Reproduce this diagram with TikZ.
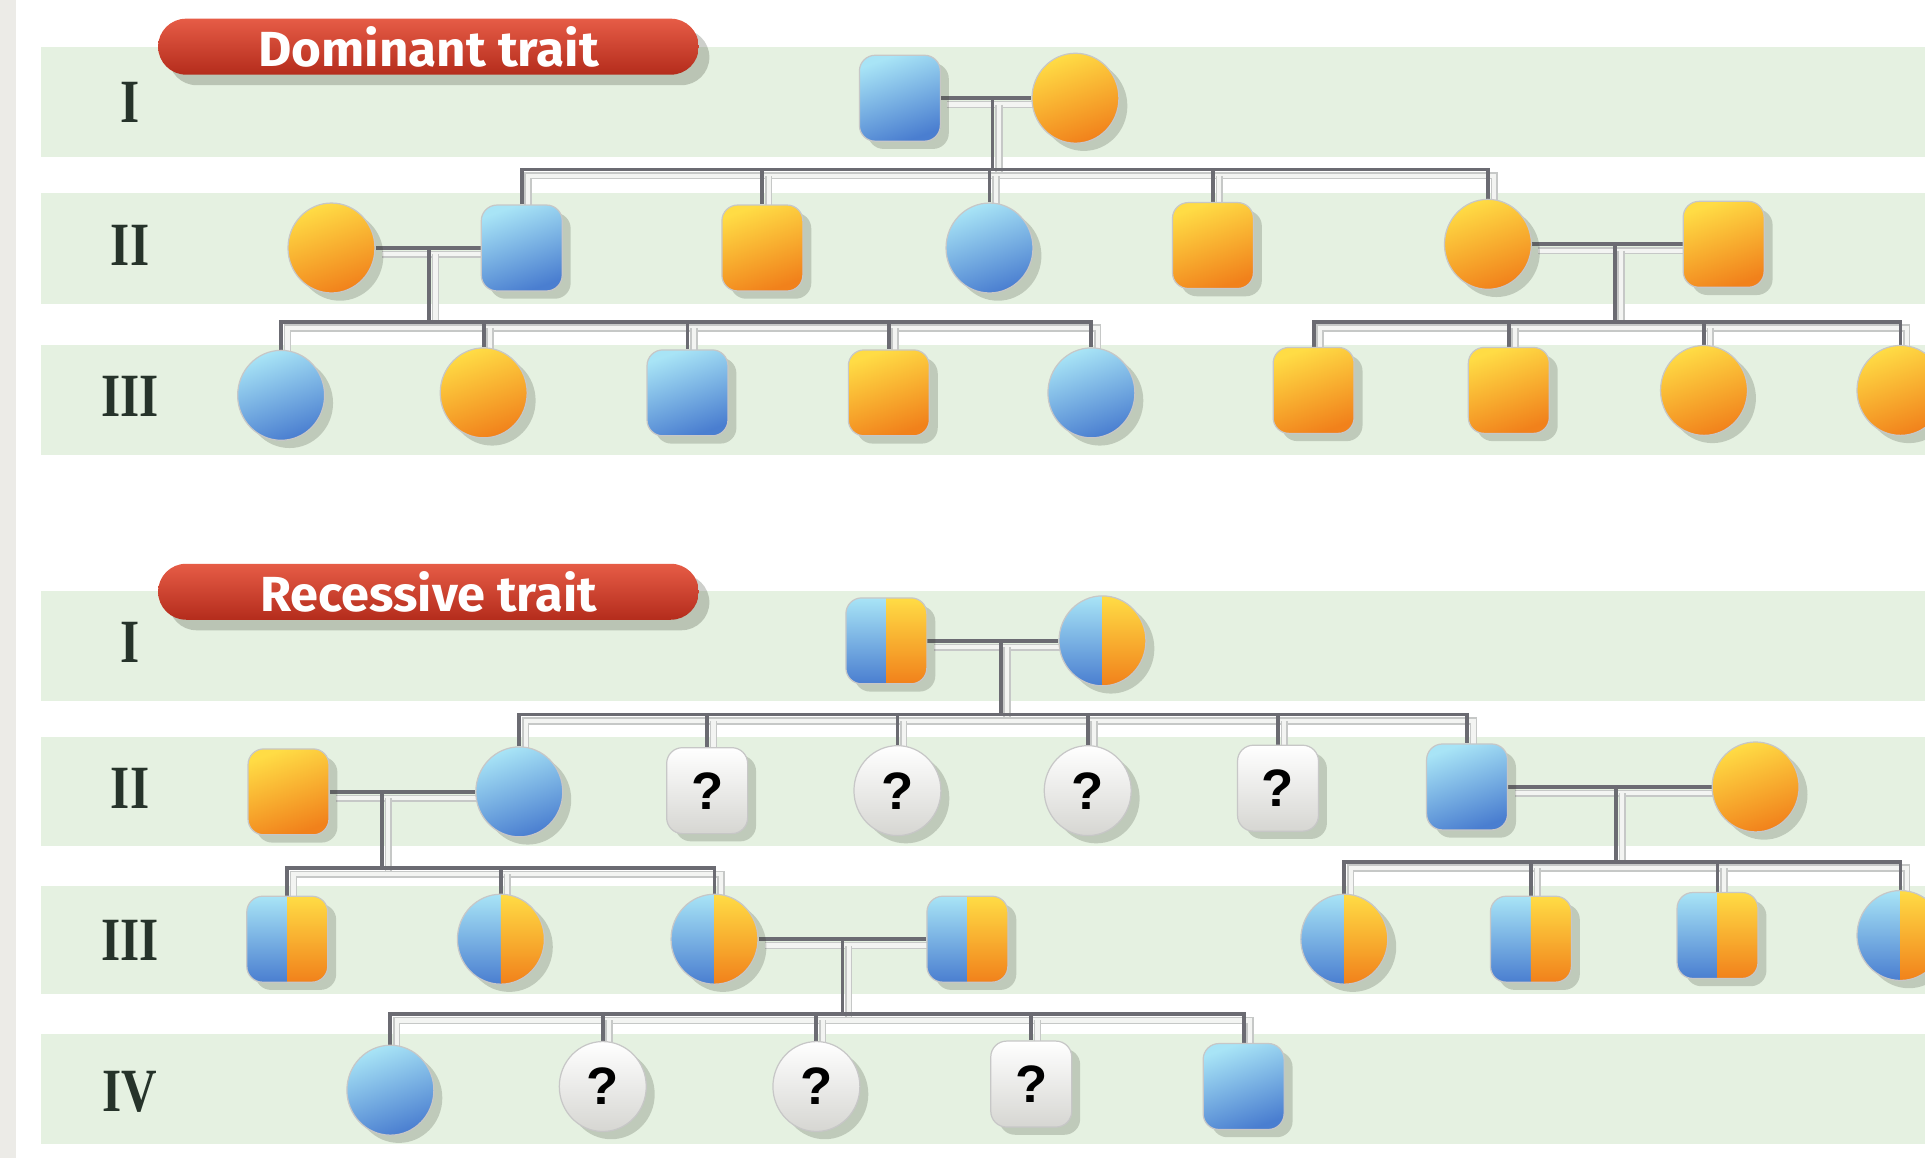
\documentclass[tikz,border=0pt]{standalone}
\usepackage{graphicx}
\usepackage{fontspec}
\setmainfont{Liberation Serif}
\setsansfont{Liberation Sans}
\newfontfamily\pillfont{Fira Sans}
\usetikzlibrary{shapes.geometric,shadows,calc}
\definecolor{bluetop}{HTML}{A8E4F6}
\definecolor{bluebot}{HTML}{4A7ED0}
\definecolor{orgtop}{HTML}{FFDC45}
\definecolor{orgbot}{HTML}{F1811B}
\definecolor{unkbot}{HTML}{D6D6D2}
\definecolor{pilltop}{HTML}{E65C46}
\definecolor{pillbot}{HTML}{B42C1C}
\definecolor{bandgreen}{HTML}{E5F1E1}
\definecolor{stripgray}{HTML}{ECEBE7}
\definecolor{linegray}{HTML}{6B6B72}
\definecolor{tubeedge}{HTML}{C6C8C7}
\definecolor{tubefill}{HTML}{F3F4F2}
\definecolor{numcol}{HTML}{26332A}
\definecolor{shadowcol}{HTML}{3A4030}
\pgfdeclarelayer{bands}
\pgfdeclarelayer{links}
\pgfsetlayers{bands,links,main}
\newcommand{\numtext}[1]{\scalebox{0.8}[1]{\bfseries #1}}
\begin{document}
\begin{tikzpicture}[x=0.012277cm, y=-0.012277cm,
  person/.style={inner sep=0pt, draw=black!22, line width=0.35pt,
    drop shadow={shadow xshift=2.4pt, shadow yshift=-2.2pt, opacity=0.22, fill=shadowcol}},
  sq/.style={person, rectangle, rounded corners=4.5pt, minimum width=0.81cm, minimum height=0.86cm},
  ci/.style={person, ellipse, minimum width=0.87cm, minimum height=0.90cm},
  aff/.style={top color=bluetop, bottom color=bluebot, shading angle=20},
  un/.style={top color=orgtop, bottom color=orgbot, shading angle=20},
  unk/.style={top color=white, bottom color=unkbot, text=black,
    font=\sffamily\bfseries\fontsize{15}{15}\selectfont},
  car/.style={path picture={
    \shade[sharp corners, top color=bluetop, bottom color=bluebot]
      (path picture bounding box.north west) rectangle (path picture bounding box.south);
    \shade[sharp corners, top color=orgtop, bottom color=orgbot]
      (path picture bounding box.north) rectangle (path picture bounding box.south east);}},
  conn/.style={draw=linegray, line width=1.1pt,
    preaction={draw=tubeedge, double=tubefill, double distance=1.2pt, line width=0.45pt,
      transform canvas={xshift=1.8pt, yshift=-1.8pt}}},
  numeral/.style={text=numcol, font=\fontsize{17.5}{18}\selectfont, inner sep=0pt},
  pill/.style={rectangle, rounded corners=0.28cm, minimum width=5.41cm, minimum height=0.56cm,
    inner sep=0pt, top color=pilltop, bottom color=pillbot, text=white,
    drop shadow={shadow xshift=3pt, shadow yshift=-3pt, opacity=0.25, fill=shadowcol}},
  band/.style={fill=bandgreen}
]
\useasboundingbox (0,0) rectangle (1568,943);
\clip (0,0) rectangle (1568,943);

% ---------- background ----------
\begin{pgfonlayer}{bands}
\fill[white] (0,0) rectangle (1568,943);
\fill[stripgray] (0,0) rectangle (13,943);
\fill[band] (33,38) rectangle (1568,128);
\fill[band] (33,157) rectangle (1568,248);
\fill[band] (33,281) rectangle (1568,371);
\fill[band] (33,481) rectangle (1568,571);
\fill[band] (33,600) rectangle (1568,689);
\fill[band] (33,722) rectangle (1568,810);
\fill[band] (33,842) rectangle (1568,932);
\end{pgfonlayer}

% ---------- titles ----------
\node[pill] (dpill) at (349,38) {\resizebox{3.41cm}{0.40cm}{\pillfont\bfseries Dominant trait}};
\node[pill] (rpill) at (349,482) {\resizebox{3.37cm}{0.40cm}{\pillfont\bfseries Recessive trait}};

% ---------- generation numerals ----------
\node[numeral] (dnI) at (106,83) {\numtext{I}};
\node[numeral] (dnII) at (106,200) {\numtext{II}};
\node[numeral] (dnIII) at (106,323) {\numtext{III}};
\node[numeral] (rnI) at (106,523) {\numtext{I}};
\node[numeral] (rnII) at (106,642) {\numtext{II}};
\node[numeral] (rnIII) at (106,766) {\numtext{III}};
\node[numeral] (rnIV) at (106,889) {\numtext{IV}};

% ---------- dominant pedigree ----------
\node[sq,aff] (dIa) at (733,80) {};
\node[ci,un] (dIb) at (876,80) {};
\node[ci,un] (dIIa) at (270,202) {};
\node[sq,aff] (dIIb) at (425,202) {};
\node[sq,un] (dIIc) at (621,202) {};
\node[ci,aff] (dIId) at (806,202) {};
\node[sq,un] (dIIe) at (988,200) {};
\node[ci,un] (dIIf) at (1212,199) {};
\node[sq,un] (dIIg) at (1404,199) {};
\node[ci,aff] (dIIIa) at (229,322) {};
\node[ci,un] (dIIIb) at (394,320) {};
\node[sq,aff] (dIIIc) at (560,320) {};
\node[sq,un] (dIIId) at (724,320) {};
\node[ci,aff] (dIIIe) at (889,320) {};
\node[sq,un] (dIIIf) at (1070,318) {};
\node[sq,un] (dIIIg) at (1229,318) {};
\node[ci,un] (dIIIh) at (1388,318) {};
\node[ci,un] (dIIIi) at (1548,318) {};

% ---------- recessive pedigree ----------
\node[sq,car] (rIa) at (722,522) {};
\node[ci,car] (rIb) at (898,522) {};
\node[sq,un] (rIIa) at (235,645) {};
\node[ci,aff] (rIIb) at (423,645) {};
\node[sq,unk] (rIIc) at (576,644) {?};
\node[ci,unk] (rIId) at (731,644) {?};
\node[ci,unk] (rIIe) at (886,644) {?};
\node[sq,unk] (rIIf) at (1041,642) {?};
\node[sq,aff] (rIIg) at (1195,641) {};
\node[ci,un] (rIIh) at (1430,641) {};
\node[sq,car] (rIIIa) at (234,765) {};
\node[ci,car] (rIIIb) at (408,765) {};
\node[ci,car] (rIIIc) at (582,765) {};
\node[sq,car] (rIIId) at (788,765) {};
\node[ci,car] (rIIIe) at (1095,765) {};
\node[sq,car] (rIIIf) at (1247,765) {};
\node[sq,car] (rIIIg) at (1399,762) {};
\node[ci,car] (rIIIh) at (1548,762) {};
\node[ci,aff] (rIVa) at (318,888) {};
\node[ci,unk] (rIVb) at (491,885) {?};
\node[ci,unk] (rIVc) at (665,885) {?};
\node[sq,unk] (rIVd) at (840,883) {?};
\node[sq,aff] (rIVe) at (1013,885) {};

% ---------- connector helper coordinates ----------
\coordinate (dS1) at (0,138);
\coordinate (dS2) at (0,262);
\coordinate (dS3) at (0,262);
\coordinate (rS1) at (0,582);
\coordinate (rS2) at (0,707);
\coordinate (rS3) at (0,702);
\coordinate (rS4) at (0,826);
\coordinate (dM1) at ($(dIa.east)!0.57!(dIb.west)$);
\coordinate (dM2) at ($(dIIa.east)!0.51!(dIIb.west)$);
\coordinate (dM3) at ($(dIIf.east)!0.55!(dIIg.west)$);
\coordinate (rM1) at ($(rIa.east)!0.56!(rIb.west)$);
\coordinate (rM2) at ($(rIIa.east)!0.36!(rIIb.west)$);
\coordinate (rM3) at ($(rIIg.east)!0.53!(rIIh.west)$);
\coordinate (rM4) at ($(rIIIc.east)!0.50!(rIIId.west)$);

% ---------- connectors ----------
\begin{pgfonlayer}{links}
% dominant I
\draw[conn] (dIa.east) -- (dIb.west);
\draw[conn] (dM1) -- (dM1 |- dS1);
\draw[conn] (dIIb.north) -- (dIIb.north |- dS1) -- (dIIf.north |- dS1) -- (dIIf.north);
\foreach \c in {dIIc,dIId,dIIe} \draw[conn] (\c.north |- dS1) -- (\c.north);
% dominant II left
\draw[conn] (dIIa.east) -- (dIIb.west);
\draw[conn] (dM2) -- (dM2 |- dS2);
\draw[conn] (dIIIa.north) -- (dIIIa.north |- dS2) -- (dIIIe.north |- dS2) -- (dIIIe.north);
\foreach \c in {dIIIb,dIIIc,dIIId} \draw[conn] (\c.north |- dS2) -- (\c.north);
% dominant II right
\draw[conn] (dIIf.east) -- (dIIg.west);
\draw[conn] (dM3) -- (dM3 |- dS3);
\draw[conn] (dIIIf.north) -- (dIIIf.north |- dS3) -- (dIIIi.north |- dS3) -- (dIIIi.north);
\foreach \c in {dIIIg,dIIIh} \draw[conn] (\c.north |- dS3) -- (\c.north);
% recessive I
\draw[conn] (rIa.east) -- (rIb.west);
\draw[conn] (rM1) -- (rM1 |- rS1);
\draw[conn] (rIIb.north) -- (rIIb.north |- rS1) -- (rIIg.north |- rS1) -- (rIIg.north);
\foreach \c in {rIIc,rIId,rIIe,rIIf} \draw[conn] (\c.north |- rS1) -- (\c.north);
% recessive II left
\draw[conn] (rIIa.east) -- (rIIb.west);
\draw[conn] (rM2) -- (rM2 |- rS2);
\draw[conn] (rIIIa.north) -- (rIIIa.north |- rS2) -- (rIIIc.north |- rS2) -- (rIIIc.north);
\draw[conn] (rIIIb.north |- rS2) -- (rIIIb.north);
% recessive II right
\draw[conn] (rIIg.east) -- (rIIh.west);
\draw[conn] (rM3) -- (rM3 |- rS3);
\draw[conn] (rIIIe.north) -- (rIIIe.north |- rS3) -- (rIIIh.north |- rS3) -- (rIIIh.north);
\foreach \c in {rIIIf,rIIIg} \draw[conn] (\c.north |- rS3) -- (\c.north);
% recessive III
\draw[conn] (rIIIc.east) -- (rIIId.west);
\draw[conn] (rM4) -- (rM4 |- rS4);
\draw[conn] (rIVa.north) -- (rIVa.north |- rS4) -- (rIVe.north |- rS4) -- (rIVe.north);
\foreach \c in {rIVb,rIVc,rIVd} \draw[conn] (\c.north |- rS4) -- (\c.north);
\end{pgfonlayer}
\end{tikzpicture}
\end{document}
